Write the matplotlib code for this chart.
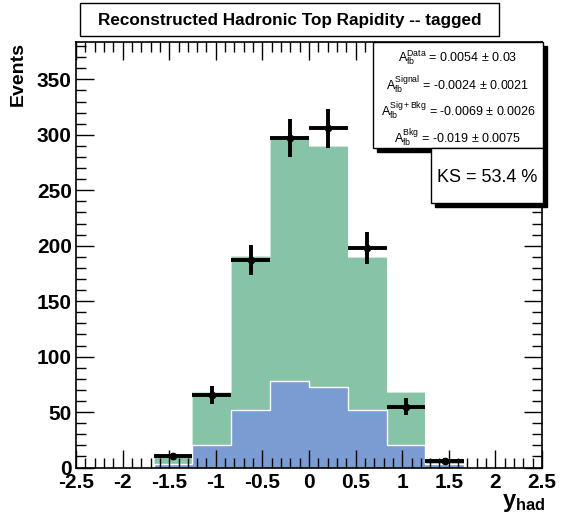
import matplotlib
matplotlib.use("Agg")
import matplotlib.pyplot as plt
import numpy as np
from matplotlib.patches import Rectangle

plt.rcParams["font.family"] = ["Liberation Sans", "DejaVu Sans"]
plt.rcParams["mathtext.fontset"] = "custom"
plt.rcParams["mathtext.rm"] = "Liberation Sans"
plt.rcParams["mathtext.bf"] = "Liberation Sans:bold"
plt.rcParams["mathtext.it"] = "Liberation Sans:italic"

# histogram binning (8 bins over [-5/3, 5/3])
bin_edges = np.linspace(-5.0 / 3.0, 5.0 / 3.0, 9)

# stacked MC: blue at the bottom, green on top (values are stack totals)
blue_counts = [3, 20, 52, 78, 73, 52, 20, 3]
total_counts = [10, 68, 191, 296, 290, 190, 68, 8]

# data points
data_counts = [10, 65, 187, 297, 306, 198, 55, 6]

afb_lines = [
    r"$\mathregular{A_{fb}^{Data}}$ = 0.0054 ± 0.03",
    r"$\mathregular{A_{fb}^{Signal}}$ = -0.0024 ± 0.0021",
    r"$\mathregular{A_{fb}^{Sig+Bkg}}$ = -0.0069 ± 0.0026",
    r"$\mathregular{A_{fb}^{Bkg}}$ = -0.019 ± 0.0075",
]
ks_text = "KS = 53.4 %"
title = "Reconstructed Hadronic Top Rapidity -- tagged"

W, H = 564, 519
green = "#86c3a7"
blue = "#7b9bd3"


def fx(x):
    return x / W


def fy(y):
    return 1 - y / H


fig = plt.figure(figsize=(W / 100, H / 100), dpi=100)
ax = fig.add_axes([fx(76), fy(467.5), (542 - 76) / W, (467.5 - 41.7) / H])

ax.stairs(total_counts, bin_edges, fill=True, color=green)
ax.stairs(total_counts, bin_edges, color="white", lw=0.8, alpha=0.6)
ax.stairs(blue_counts, bin_edges, fill=True, facecolor=blue)
ax.stairs(blue_counts, bin_edges, color="white", lw=1.0)

centers = 0.5 * (bin_edges[:-1] + bin_edges[1:])
half_width = 0.5 * (bin_edges[1] - bin_edges[0])
data = np.array(data_counts, dtype=float)
ax.errorbar(centers, data, xerr=half_width, yerr=np.sqrt(data), fmt="o",
            ms=4.5, color="black", elinewidth=2.8, capsize=0)

ax.set_xlim(-2.5, 2.5)
ax.set_ylim(0, 384)
ax.set_xticks(np.arange(-2.5, 2.51, 0.5))
ax.set_xticklabels(["-2.5", "-2", "-1.5", "-1", "-0.5", "0", "0.5", "1", "1.5", "2", "2.5"])
ax.set_xticks(np.arange(-2.5, 2.51, 0.1), minor=True)
ax.set_yticks(np.arange(0, 351, 50))
ax.set_yticks(np.arange(0, 381, 10), minor=True)
ax.tick_params(which="both", direction="in", top=True, right=True, width=1)
ax.tick_params(which="major", length=13, labelsize=15, pad=4)
ax.tick_params(axis="y", which="major", pad=3)
ax.tick_params(which="minor", length=7)
for lab in ax.get_xticklabels() + ax.get_yticklabels():
    lab.set_fontweight("bold")
for sp in ax.spines.values():
    sp.set_linewidth(1.2)

# title box
fig.patches.append(Rectangle((fx(80), fy(36)), (499 - 80) / W, 33 / H,
                             transform=fig.transFigure, fill=False, lw=1, ec="black"))
fig.text(fx(290), fy(20), title, ha="center", va="center", fontsize=12.3, fontweight="bold")

# A_fb box with shadow
sh = 4
fig.patches.append(Rectangle((fx(373 + sh), fy(148 + sh)), 170 / W, 106 / H,
                             transform=fig.transFigure, fc="black", ec="black", zorder=5))
fig.patches.append(Rectangle((fx(373), fy(148)), 170 / W, 106 / H,
                             transform=fig.transFigure, fc="white", ec="black", lw=1, zorder=6))
for line, ypix in zip(afb_lines, [58, 85, 111, 138]):
    fig.text(fx(458), fy(ypix), line, ha="center", va="center", fontsize=9, zorder=7)

# KS box with shadow
fig.patches.append(Rectangle((fx(431 + sh), fy(203 + sh)), 112 / W, 55 / H,
                             transform=fig.transFigure, fc="black", ec="black", zorder=5))
fig.patches.append(Rectangle((fx(431), fy(203)), 112 / W, 55 / H,
                             transform=fig.transFigure, fc="white", ec="black", lw=1, zorder=6))
fig.text(fx(487), fy(178), ks_text, ha="center", va="center", fontsize=13, zorder=7)

fig.text(fx(18), fy(42), "Events", rotation=90, ha="center", va="top",
         fontsize=14, fontweight="bold")
fig.text(fx(546), fy(503), r"$\mathbf{y_{had}}$", ha="right", va="center", fontsize=17)

fig.savefig("out.png", dpi=100)
